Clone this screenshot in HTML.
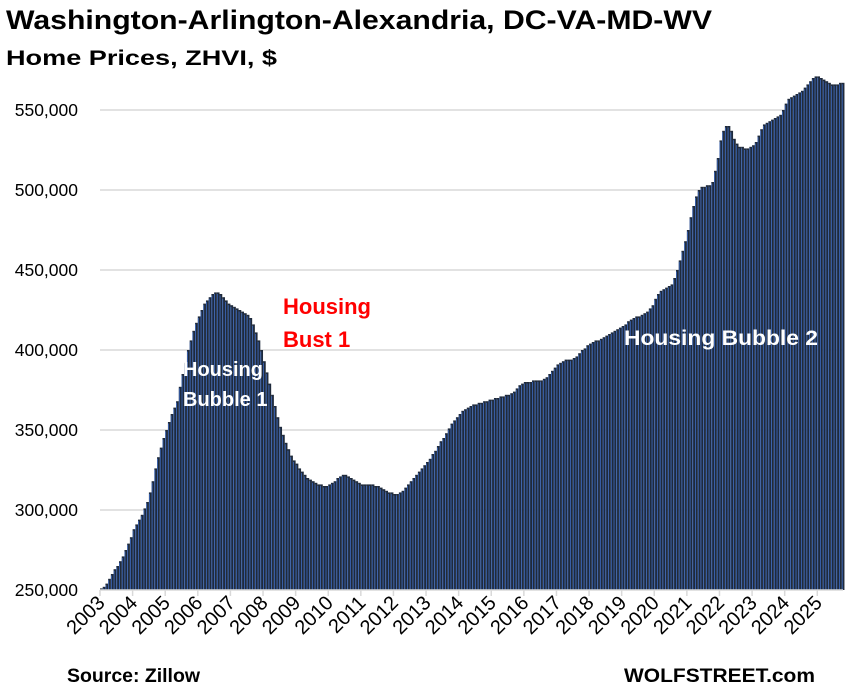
<!DOCTYPE html>
<html><head><meta charset="utf-8"><style>
body{margin:0;background:#fff;}
svg{display:block;font-family:"Liberation Sans",sans-serif;}
</style></head><body>
<svg id="chart" width="849" height="698">
<text x="6" y="29" font-size="27" font-weight="bold" fill="#000" textLength="706" lengthAdjust="spacingAndGlyphs">Washington-Arlington-Alexandria, DC-VA-MD-WV</text>
<text x="6" y="65" font-size="21" font-weight="bold" fill="#000" textLength="271" lengthAdjust="spacingAndGlyphs">Home Prices, ZHVI, $</text>
<g id="grid"></g><g id="bars"></g><g id="axes"></g>
<text x="183" y="376" font-size="20" font-weight="bold" fill="#fff"><tspan x="183">Housing</tspan><tspan x="183" dy="30">Bubble 1</tspan></text>
<text x="283" y="314" font-size="22" font-weight="bold" fill="#ff0000"><tspan x="283">Housing</tspan><tspan x="283" dy="33">Bust 1</tspan></text>
<text x="624" y="345" font-size="21" font-weight="bold" fill="#fff" textLength="194" lengthAdjust="spacingAndGlyphs">Housing Bubble 2</text>
<text x="67" y="682" font-size="19" font-weight="bold" fill="#000" textLength="133" lengthAdjust="spacingAndGlyphs">Source: Zillow</text>
<text x="624" y="682" font-size="19" font-weight="bold" fill="#000" textLength="191" lengthAdjust="spacingAndGlyphs">WOLFSTREET.com</text>
</svg>
<script>
const startYear = 2003;
const yTicks = [250000,300000,350000,400000,450000,500000,550000];
const yearLabels = ["2003","2004","2005","2006","2007","2008","2009","2010","2011","2012","2013","2014","2015","2016","2017","2018","2019","2020","2021","2022","2023","2024","2025"];
const values = [
251,252,254,257,260,263,265,268,271,275,279,283,
288,291,294,297,301,305,311,318,326,333,339,345,
350,355,360,364,368,377,385,392,400,406,412,417,
421,425,429,431,433,435,436,436,435,433,431,429,
428,427,426,425,424,423,422,420,416,411,406,400,
393,386,379,372,365,358,352,347,342,338,334,331,
329,326,324,322,320,319,318,317,316,316,315,315,
316,317,318,320,321,322,322,321,320,319,318,317,
316,316,316,316,316,315,315,314,313,312,311,311,
310,310,311,312,314,316,318,320,322,324,326,328,
330,332,335,337,340,343,345,348,351,354,356,358,
360,362,363,364,365,366,366,367,367,368,368,369,
369,370,370,371,371,372,372,373,374,376,378,379,
380,380,380,381,381,381,381,382,383,385,387,389,
391,392,393,394,394,394,395,396,398,400,401,403,
404,405,406,406,407,408,409,410,411,412,413,414,
415,416,418,419,420,421,421,422,423,424,426,428,
432,435,437,438,439,440,441,445,450,456,462,468,
475,483,490,496,500,502,502,503,503,505,512,520,
531,537,540,540,537,532,529,527,527,526,526,527,
528,530,534,538,541,542,543,544,545,546,547,550,
554,557,558,559,560,561,562,564,566,568,570,571,
571,570,569,568,567,566,566,566,567,567
];
const NS="http://www.w3.org/2000/svg";
const x0=100, bw=2.717, yBase=590;
function xPos(m){return x0+m*bw;}
function yPos(v){return yBase-(v-250000)*1.6/1000;}
function mk(tag,attrs,parent){const e=document.createElementNS(NS,tag);for(const k in attrs)e.setAttribute(k,attrs[k]);parent.appendChild(e);return e;}
const grid=document.getElementById('grid'),bars=document.getElementById('bars'),axes=document.getElementById('axes');
yTicks.forEach(t=>{
  const y=yPos(t);
  if(t>250000){const l=mk('line',{x1:x0,x2:843,y1:y,y2:y,stroke:'#d9d9d9','stroke-width':1.5},grid);
  
  }
  const tx=mk('text',{x:78,y:y+6,'font-size':17.5,'text-anchor':'end',fill:'#000'},axes);
  tx.textContent=t.toLocaleString('en-US');
  
  
});
values.forEach((v,i)=>{
  const y=yPos(v*1000);
  const r=mk('rect',{x:xPos(i),y:y,width:bw,height:yBase-y,fill:'#1f2a3b'},bars);
  
  
  mk('line',{x1:xPos(i)+0.5,x2:xPos(i)+0.5,y1:y+1.5,y2:yBase,stroke:'#3d6ac0','stroke-width':0.8},bars);
});
mk('line',{x1:x0,x2:843,y1:yBase,y2:yBase,stroke:'#d9d9d9','stroke-width':1.5},axes);
yearLabels.forEach((lab,i)=>{
  const x=xPos(i*12);
  mk('line',{x1:x,x2:x,y1:yBase,y2:yBase+6,stroke:'#d9d9d9','stroke-width':1.5},axes);
  const t=mk('text',{x:x+6,y:yBase+14,'font-size':20,'text-anchor':'end',fill:'#000',transform:`rotate(-45 ${x+6} ${yBase+14})`},axes);
  t.textContent=lab;
  
  
});
</script>
</body></html>
